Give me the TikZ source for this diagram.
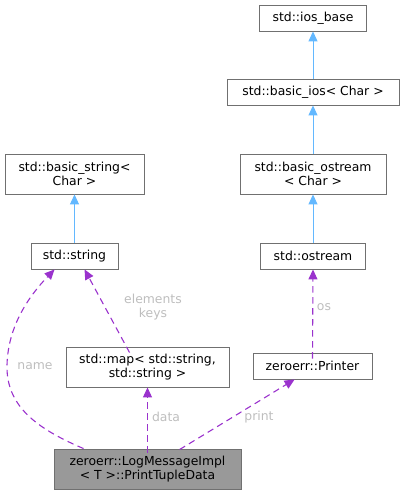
\documentclass[tikz,border=0pt]{standalone}
\usepackage{fontspec}
\setmainfont{DejaVu Sans}
\usetikzlibrary{arrows.meta}
\definecolor{inhblue}{HTML}{63B8FF}
\definecolor{usepurple}{HTML}{9A32CD}
\definecolor{edgegrey}{HTML}{707070}
\definecolor{labelgrey}{HTML}{BEBEBE}
\definecolor{mainfill}{HTML}{999999}

\begin{document}
\begin{tikzpicture}[x=1pt, y=-1pt, >={Triangle[length=10pt, width=9pt]},
    classbox/.style={draw=edgegrey, line width=0.9pt, fill=white, inner sep=0pt,
        align=center, font=\fontsize{12.4}{14}\selectfont},
    inherit/.style={->, draw=inhblue, line width=1pt, fill=inhblue},
    member/.style={->, draw=usepurple, line width=1.1pt, dash pattern=on 6.5pt off 4.5pt},
    edgelabel/.style={text=labelgrey, align=center, font=\fontsize{12.4}{14}\selectfont}]
    \useasboundingbox (0,0) rectangle (404,495);

    % 定义类节点
    \node[classbox, minimum width=107pt, minimum height=26pt] (iosbase) at (313,18) {std::ios\_base};
    \node[classbox, minimum width=172pt, minimum height=26pt] (basicios) at (313,92) {std::basic\_ios< Char >};
    \node[classbox, minimum width=146pt, minimum height=40pt] (basicostream) at (313,174) {std::basic\_ostream\\< Char >};
    \node[classbox, minimum width=105pt, minimum height=26pt] (ostream) at (313,256) {std::ostream};
    \node[classbox, minimum width=139pt, minimum height=40pt] (basicstring) at (74.5,174) {std::basic\_string<\\Char >};
    \node[classbox, minimum width=87pt, minimum height=26pt] (string) at (74.5,256) {std::string};
    \node[classbox, minimum width=163pt, minimum height=40pt] (map) at (147.5,367) {std::map< std::string,\\std::string >};
    \node[classbox, minimum width=119pt, minimum height=26pt] (printer) at (312.5,366) {zeroerr::Printer};
    \node[classbox, fill=mainfill, minimum width=187pt, minimum height=40pt] (logdata) at (147.5,469) {zeroerr::LogMessageImpl\\< T >::PrintTupleData};

    % 绘制继承箭头
    \draw[inherit] (basicios) -- (iosbase);
    \draw[inherit] (basicostream) -- (basicios);
    \draw[inherit] (ostream) -- (basicostream);
    \draw[inherit] (string) -- (basicstring);

    % 绘制成员箭头并标注名称
    \draw[member] ([xshift=30pt]logdata.north west) .. controls (35,428) and (6,405) .. (7,365)
        .. controls (8,325) and (30,295) .. ([xshift=24pt]string.south west);
    \draw[member] ([xshift=64pt, yshift=-6pt]map.north west) -- ([xshift=54pt]string.south west);
    \draw[member] ([yshift=-6pt]printer.north) -- (ostream.south);
    \draw[member] ([yshift=-4pt]logdata.north) -- (map.south);
    \draw[member] ([xshift=126pt, yshift=-1pt]logdata.north west) -- ([xshift=42pt]printer.south west);

    % 标签
    \node[edgelabel] (namelabel) at (35,366) {name};
    \node[edgelabel] (keyslabel) at (153,307) {elements\\keys};
    \node[edgelabel] (oslabel) at (324,307) {os};
    \node[edgelabel] (datalabel) at (166,417) {data};
    \node[edgelabel] (printlabel) at (259,417) {print};
\end{tikzpicture}
\end{document}
